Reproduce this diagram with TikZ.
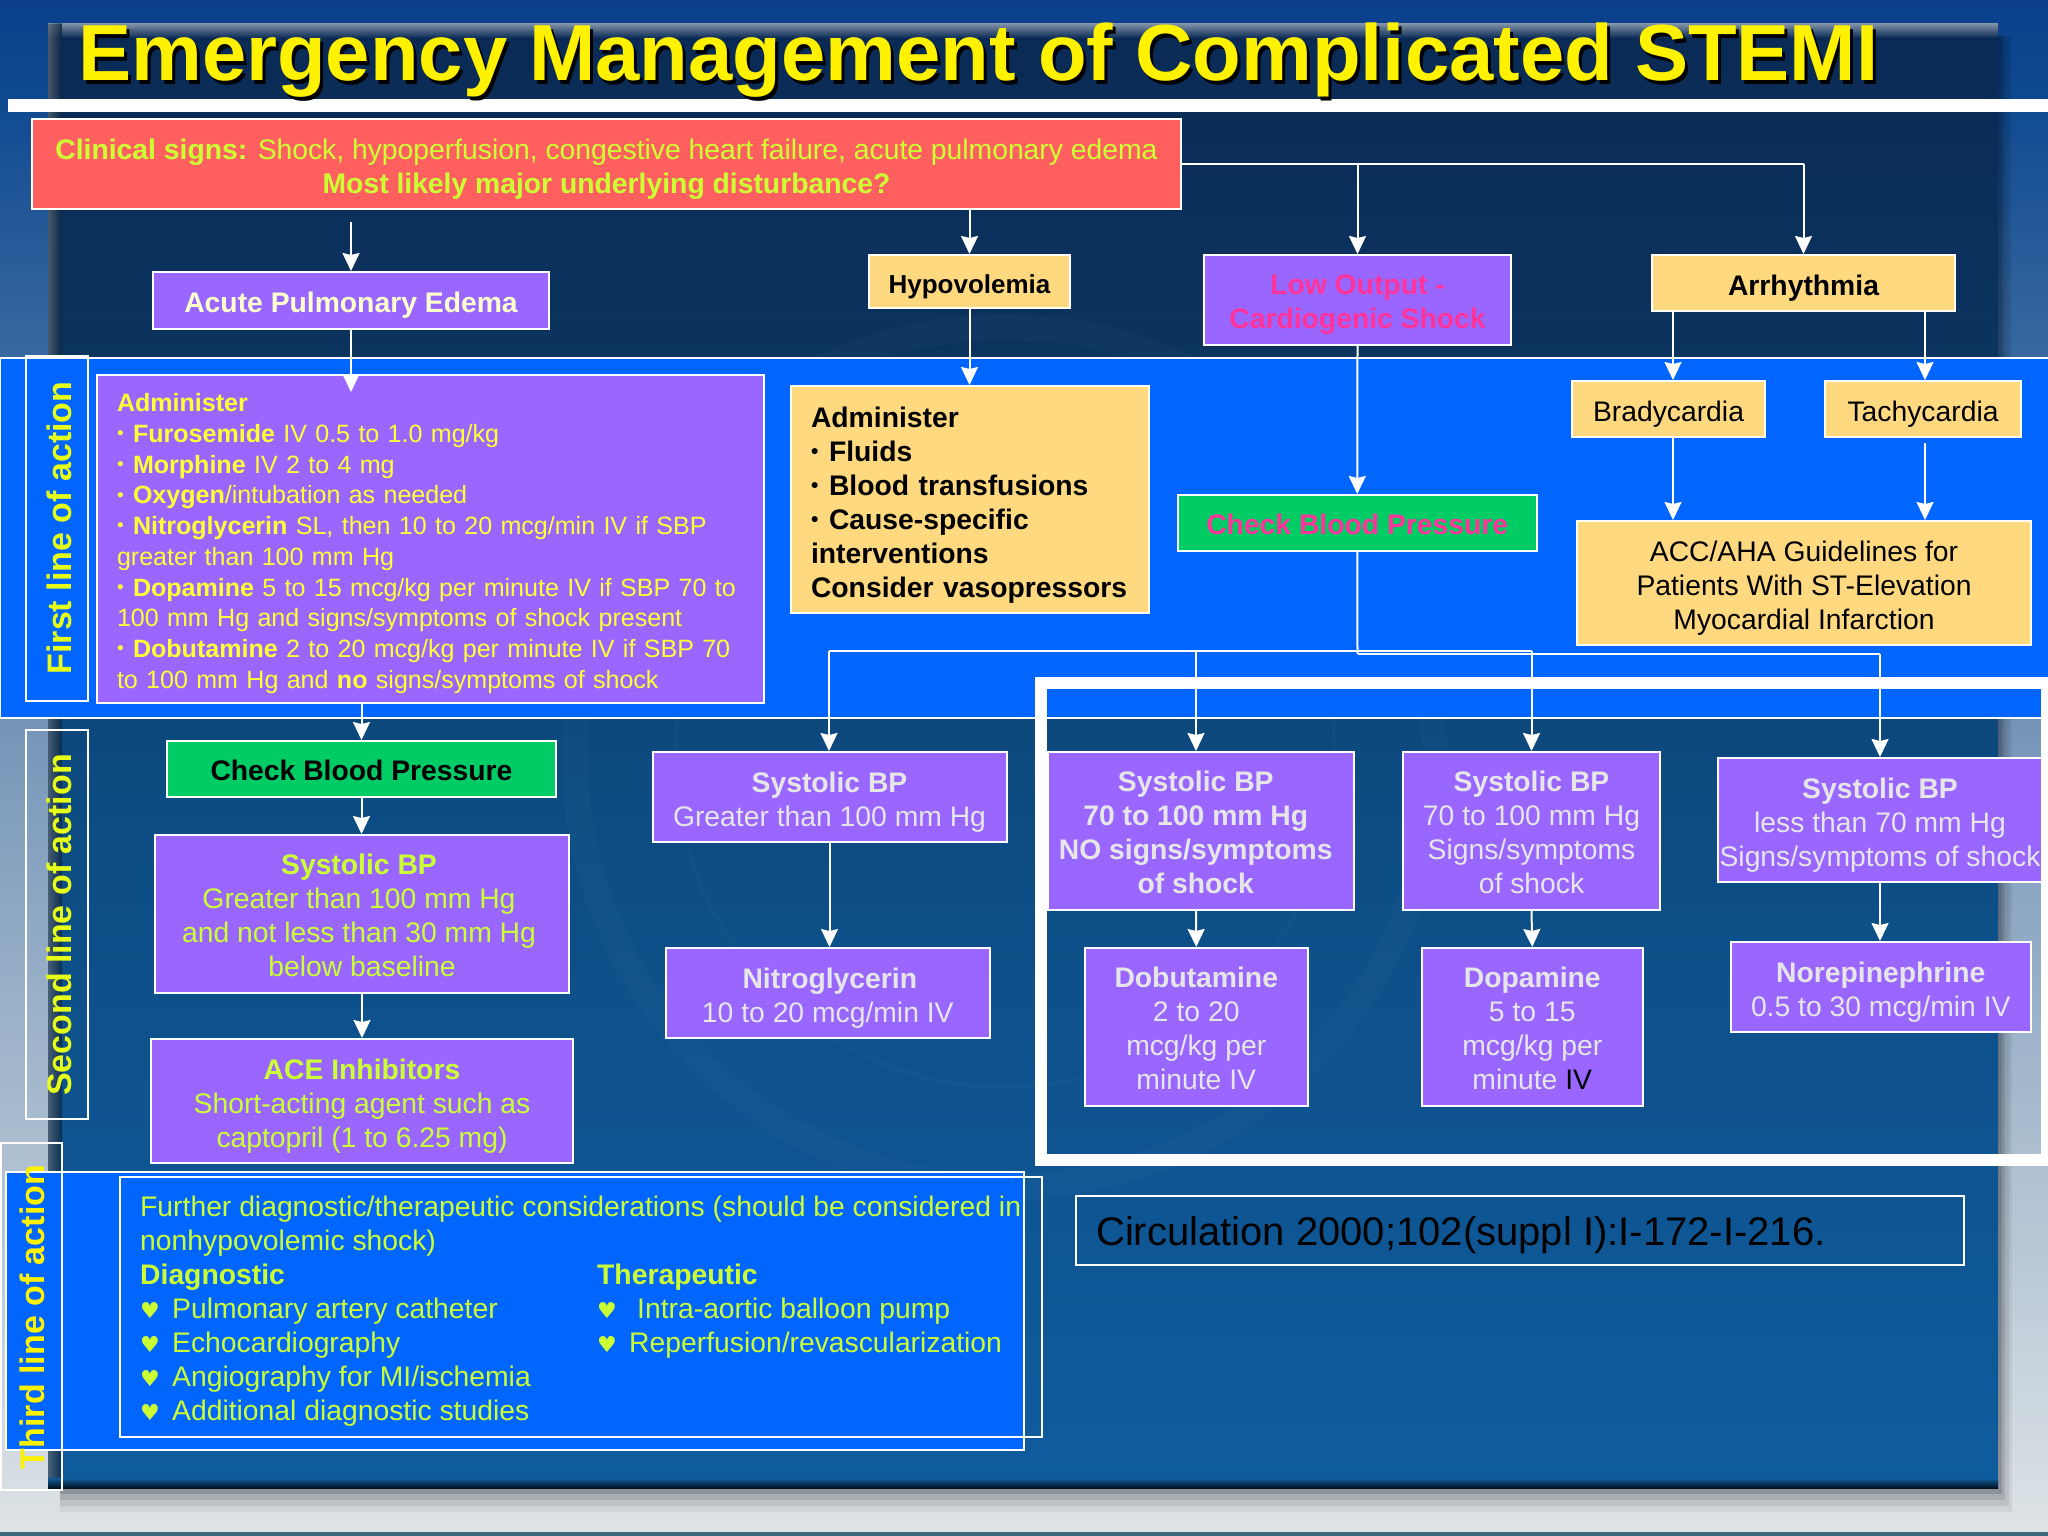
\documentclass[tikz,border=0pt]{standalone}
\usepackage{fontspec}
\setmainfont{Liberation Sans}
\newfontfamily\symfont{DejaVu Sans}
\usetikzlibrary{arrows.meta}
\definecolor{bandblue}{HTML}{0066FF}
\definecolor{purplebox}{HTML}{9966FF}
\definecolor{goldbox}{HTML}{FFD97F}
\definecolor{redbox}{HTML}{FF5F5F}
\definecolor{greenbox}{HTML}{00CC66}
\definecolor{lime}{HTML}{CCFF33}
\definecolor{yel}{HTML}{FFFF33}
\definecolor{paleyel}{HTML}{FFFFCC}
\definecolor{palegray}{HTML}{E6E6E6}
\definecolor{pinktxt}{HTML}{FF3399}
\definecolor{bgA}{HTML}{0B3F8C}
\definecolor{bgB}{HTML}{0F4A90}
\definecolor{bgC}{HTML}{7C9ABB}
\definecolor{bgD}{HTML}{DDE3E6}
\definecolor{bgE}{HTML}{3A6A7C}
\definecolor{pA}{HTML}{0A2A55}
\definecolor{pB}{HTML}{0B3560}
\definecolor{pC}{HTML}{0D4C82}
\definecolor{pD}{HTML}{0F5C9E}
\definecolor{bevel}{HTML}{7D8FA5}
\newcommand{\fsA}{\fontsize{28.3}{34}\selectfont}
\newcommand{\fsB}{\fontsize{25.05}{30.7}\selectfont}
\newcommand{\bul}{\makebox[16pt][l]{\raisebox{.2ex}{\fontsize{19}{19}\selectfont •}}}
\newcommand{\bulb}{\makebox[18pt][l]{\raisebox{.2ex}{\fontsize{21}{21}\selectfont •}}}
\newcommand{\hrt}{\makebox[32pt][l]{\symfont\fontsize{22}{22}\selectfont ♥}}
\def\dx{0}\def\dy{5}
\newcommand{\bx}[7]{%
  \pgfmathsetmacro{\cxx}{(#3+#5)/2}\pgfmathsetmacro{\cyy}{(#4+#6)/2}%
  \pgfmathsetmacro{\ww}{#5-#3}\pgfmathsetmacro{\hh}{#6-#4}%
  \pgfmathsetmacro{\tcx}{\cxx+\dx}\pgfmathsetmacro{\tcy}{\cyy+\dy}%
  \node[basebox,#2,text opacity=0,minimum width=\ww pt,minimum height=\hh pt,text width=,align=none] (#1) at (\cxx,\cyy) {};
  \node[basebox,#2,draw=none,fill=none] (#1-text) at (\tcx,\tcy) {#7};}
\tikzset{
  x=1pt,y=-1pt,
  basebox/.style={draw=white,line width=2pt,inner sep=0pt,align=center,font=\fsA},
  purple/.style={fill=purplebox},
  gold/.style={fill=goldbox,text=black},
  conn/.style={draw=white,line width=2pt,-{Stealth[length=18pt,width=17pt,inset=2pt]}},
  plainline/.style={draw=white,line width=2pt},
  rotlabel/.style={rotate=90,font=\bfseries\fontsize{34}{34}\selectfont,inner sep=0pt},
  thirdtxt/.style={anchor=north west,align=left,text=lime,inner sep=0pt,font=\fsA},
}
\begin{document}
\begin{tikzpicture}
\useasboundingbox (0,0) rectangle (2048,1536);
% backdrop
\fill[top color=bgA,bottom color=bgB] (0,0) rectangle (2048,100.5);
\fill[top color=bgB,bottom color=bgC] (0,100) rectangle (2048,768.5);
\fill[top color=bgC,bottom color=bgD] (0,768) rectangle (2048,1532);
\fill[bgE] (0,1532) rectangle (2048,1536);
% panel shadow
\foreach \d/\o in {24/.06,18/.08,12/.1,6/.14}{
  \fill[black,opacity=\o] (60,36) rectangle (1998+\d*0.6,1488+\d);
}
% panel
\fill[top color=pA,bottom color=pB] (48,24) rectangle (1998,400.5);
\fill[top color=pB,bottom color=pC] (48,400) rectangle (1998,800.5);
\fill[top color=pC,bottom color=pD] (48,800) rectangle (1998,1488);
\fill[top color=bevel,bottom color=pA] (48,24) rectangle (1998,38);
\fill[left color=bevel,right color=pB,opacity=.55] (48,24) rectangle (62,1488);
\fill[top color=pD,bottom color=black!80!pD] (48,1478) rectangle (1998,1488);
% faint seal
\draw[white,opacity=.018,line width=26pt] (1005,757) circle (430);
\draw[white,opacity=.018,line width=4pt] (1005,757) circle (330);
% bands
\fill[bandblue] (0,358) rectangle (2048,718);
\draw[white,line width=1.5pt] (0,358) -- (2048,358) (0,718) -- (2048,718) (0.5,358) -- (0.5,718);
\draw[white,line width=12.5pt] (1041,683) rectangle (2047,1160);
\fill[bandblue,draw=white,line width=1.5pt] (6,1172) rectangle (1024,1450);
% title rule
\fill[white] (8,99) rectangle (2048,112);
% title
\node[font=\bfseries\fontsize{79.6}{80}\selectfont,text=black,inner sep=0pt,anchor=base west] (titleshadow) at (81,85) {Emergency Management of Complicated STEMI};
\node[font=\bfseries\fontsize{79.6}{80}\selectfont,text=yellow,inner sep=0pt,anchor=base west] (title) at (78,81) {Emergency Management of Complicated STEMI};
% rotated labels and frames
\draw[white,line width=2pt] (26,356) rectangle (88,701);
\draw[white,line width=2pt] (26,730) rectangle (88,1119);
\draw[white,line width=2pt] (1,1143) rectangle (62,1490);
\node[rotlabel,text=lime!50!yellow] (first) at (59,528) {First line of action};
\node[rotlabel,text=lime!50!yellow] (second) at (59,925) {Second line of action};
\node[rotlabel,text=yellow] (third) at (32,1317) {Third line of action};
% boxes
\bx{red}{fill=redbox,text=lime}{32}{119}{1181}{209}{{\bfseries Clinical signs:} Shock, hypoperfusion, congestive heart failure, acute pulmonary edema\\ {\bfseries Most likely major underlying disturbance?}}
\bx{acute}{purple,text=paleyel}{153}{272}{549}{329}{\bfseries Acute Pulmonary Edema}
\bx{hypo}{gold}{869}{255}{1070}{308}{\fontsize{26}{30}\selectfont\bfseries Hypovolemia}
\bx{low}{purple,text=pinktxt}{1204}{255}{1511}{345}{\bfseries Low Output -\\ \bfseries Cardiogenic Shock}
\bx{arr}{gold}{1652}{255}{1955}{311}{\bfseries Arrhythmia}
\def\dy{4.5}
\bx{adm}{purple,text=yel,font=\fsB,align=left,text width=627pt}{97}{375}{764}{703}{{\bfseries Administer}\\
\bul{\bfseries Furosemide} IV 0.5 to 1.0 mg/kg\\
\bul{\bfseries Morphine} IV 2 to 4 mg\\
\bul{\bfseries Oxygen}/intubation as needed\\
\bul{\bfseries Nitroglycerin} SL, then 10 to 20 mcg/min IV if SBP\\
greater than 100 mm Hg\\
\bul{\bfseries Dopamine} 5 to 15 mcg/kg per minute IV if SBP 70 to\\
100 mm Hg and signs/symptoms of shock present\\
\bul{\bfseries Dobutamine} 2 to 20 mcg/kg per minute IV if SBP 70\\
to 100 mm Hg and {\bfseries no} signs/symptoms of shock}
\def\dy{5.5}
\bx{gadm}{gold,align=left,text width=318pt,font=\fsA\bfseries}{791}{386}{1149}{613}{Administer\\
\bulb Fluids\\
\bulb Blood transfusions\\
\bulb Cause-specific\\
interventions\\
\mbox{Consider vasopressors}}
\def\dy{5}
\bx{brady}{gold}{1572}{381}{1765}{437}{Bradycardia}
\bx{tachy}{gold}{1825}{381}{2021}{437}{Tachycardia}
\bx{acc}{gold}{1577}{521}{2031}{645}{ACC/AHA Guidelines for\\ Patients With ST-Elevation\\ Myocardial Infarction}
\def\dy{1}
\bx{chk}{fill=greenbox,text=pinktxt}{1177.5}{495}{1537}{551}{\bfseries Check Blood Pressure}
\bx{chkl}{fill=greenbox,text=black}{167}{741}{556}{797}{\bfseries Check Blood Pressure}
\def\dx{-3}
\bx{sysl}{purple,text=lime}{155}{835}{569}{993}{{\bfseries Systolic BP}\\ Greater than 100 mm Hg\\ and not less than 30 mm Hg\\ \hspace{6pt}below baseline}
\def\dx{0}
\def\dy{5}
\bx{ace}{purple,text=lime}{151}{1039}{573}{1163}{{\bfseries ACE Inhibitors}\\ Short-acting agent such as\\ captopril (1 to 6.25 mg)}
\bx{sysgt}{purple,text=palegray}{652.5}{752}{1006.5}{842}{{\bfseries Systolic BP}\\ Greater than 100 mm Hg}
\bx{nitro}{purple,text=palegray}{665.6}{948}{990}{1038}{\hspace{4pt}{\bfseries Nitroglycerin}\\ 10 to 20 mcg/min IV}
\def\dy{1}\def\dx{-5}
\bx{sysno}{purple,text=palegray,font=\fsA\bfseries}{1047.5}{752}{1354}{910}{Systolic BP\\ 70 to 100 mm Hg\\ NO signs/symptoms\\ of shock}
\def\dx{0}
\bx{syssg}{purple,text=palegray}{1403}{752}{1660}{910}{{\bfseries Systolic BP}\\ 70 to 100 mm Hg\\ Signs/symptoms\\ of shock}
\def\dy{5}
\bx{sysle}{purple,text=palegray}{1718}{758}{2042}{882}{{\bfseries Systolic BP}\\ less than 70 mm Hg\\ Signs/symptoms of shock}
\def\dy{1}
\bx{dob}{purple,text=palegray}{1085}{948}{1307.5}{1106}{{\bfseries Dobutamine}\\ 2 to 20\\ mcg/kg per\\ minute IV}
\bx{dop}{purple,text=palegray}{1422}{948}{1642.5}{1106}{{\bfseries Dopamine}\\ 5 to 15\\ mcg/kg per\\ minute {\color{black}IV}}
\def\dy{5}
\bx{nor}{purple,text=palegray}{1731}{942}{2030.5}{1032}{{\bfseries Norepinephrine}\\ 0.5 to 30 mcg/min IV}
\node[draw=white,line width=2pt,minimum width=888pt,minimum height=69.5pt,anchor=north west,inner sep=0pt] (cit) at (1075,1194.5) {};
\node[anchor=west,inner sep=0pt,font=\fontsize{40}{44}\selectfont,text=black] (cittxt) at (1096,1235) {Circulation 2000;102(suppl I):I-172-I-216.};
% third line box
\draw[white,line width=2pt] (119.5,1177) rectangle (1042,1437);
\node[thirdtxt] (further) at (140,1196) {Further diagnostic/therapeutic considerations (should be considered in\\ nonhypovolemic shock)\\
{\bfseries Diagnostic}\\
\hrt Pulmonary artery catheter\\
\hrt Echocardiography\\
\hrt Angiography for MI/ischemia\\
\hrt Additional diagnostic studies};
\node[thirdtxt] (thera) at (597,1264) {{\bfseries Therapeutic}\\
\makebox[40pt][l]{\symfont\fontsize{22}{22}\selectfont ♥}Intra-aortic balloon pump\\
\hrt Reperfusion/revascularization};
% connectors
\coordinate (c1) at (351,222);
\coordinate (c2) at (351,392);
\coordinate (vb) at (1673,0);
\coordinate (vt) at (1925,0);
\coordinate (j1) at (1357.5,164);
\coordinate (j2) at (1803.5,164);
\coordinate (tk) at (1925,443);
\coordinate (l1) at (829,651);
\coordinate (l2) at (1357.5,651);
\coordinate (l3) at (1531.5,651);
\coordinate (l4) at (1357.5,654);
\coordinate (l5) at (1880,654);
\coordinate (l6) at (1196,651);
\draw[conn] (c1) -- (acute.north -| c1);
\draw[conn] (acute.south -| c2) -- (c2);
\draw[conn] (red.south -| hypo.north) -- (hypo.north);
\draw[conn] (hypo.south) -- (gadm.north -| hypo.south);
\draw[plainline] (red.east |- j1) -- (j2);
\draw[conn] (j1) -- (low.north);
\draw[conn] (j2) -- (arr.north);
\draw[conn] (low.south) -- (chk.north);
\draw[conn] (arr.south -| vb) -- (brady.north -| vb);
\draw[conn] (arr.south -| vt) -- (tachy.north -| vt);
\draw[conn] (brady.south -| vb) -- (acc.north -| vb);
\draw[conn] (tk) -- (acc.north -| tk);
\draw[conn] (adm.south -| chkl.north) -- (chkl.north);
\draw[conn] (chkl.south) -- (sysl.north -| chkl.south);
\draw[conn] (sysl.south -| ace.north) -- (ace.north);
\draw[plainline] (chk.south) -- (l4);
\draw[plainline] (l1) -- (l3);
\draw[plainline] (l4) -- (l5);
\draw[conn] (l1) -- (sysgt.north -| l1);
\draw[conn] (l6) -- (sysno.north -| l6);
\draw[conn] (l3) -- (syssg.north -| l3);
\draw[conn] (l5) -- (sysle.north);
\draw[conn] (sysgt.south) -- (nitro.north -| sysgt.south);
\draw[conn] (sysno.south -| l6) -- (dob.north);
\draw[conn] (syssg.south) -- (dop.north);
\draw[conn] (sysle.south) -- (nor.north -| sysle.south);
\end{tikzpicture}
\end{document}
